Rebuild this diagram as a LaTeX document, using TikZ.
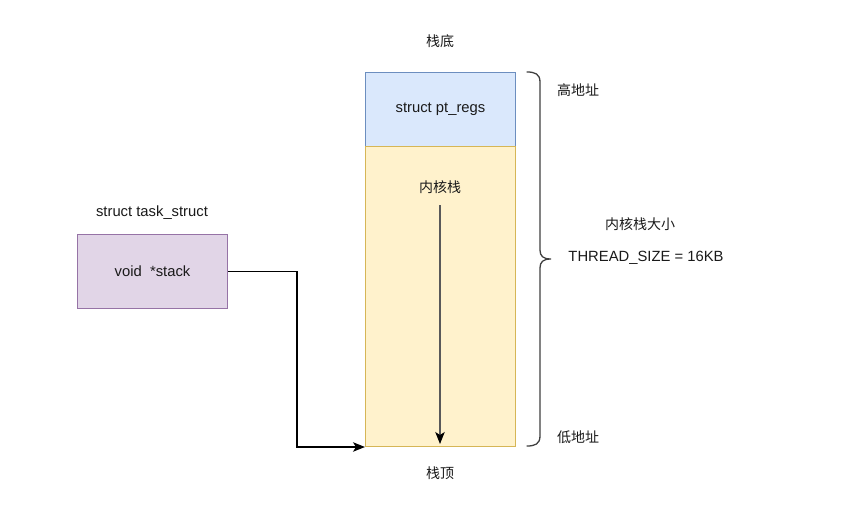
\documentclass[tikz,border=0pt]{standalone}
\usepackage{fontspec}
\setmainfont{Liberation Sans}
\newfontfamily\cjk{Noto Sans CJK SC}
\usetikzlibrary{arrows.meta}
\definecolor{blueF}{HTML}{DAE8FC}
\definecolor{blueD}{HTML}{6C8EBF}
\definecolor{yelF}{HTML}{FFF2CC}
\definecolor{yelD}{HTML}{D6B656}
\definecolor{purF}{HTML}{E1D5E7}
\definecolor{purD}{HTML}{9673A6}
\definecolor{txt}{HTML}{1A1A1A}
\tikzset{
  box/.style={draw, line width=1pt, minimum width=150pt, inner sep=0pt, font=\fontsize{14.8}{17}\selectfont, text=txt},
  lbl/.style={font=\fontsize{14.8}{17}\selectfont, text=txt, inner sep=0pt},
  clbl/.style={font=\fontsize{14}{17}\selectfont\cjk, text=txt, inner sep=0pt},
  conn/.style={line width=1.2pt, draw=black, -{Stealth[length=12pt,width=9.5pt,inset=3pt,color=black]}},
}
\begin{document}
\begin{tikzpicture}[x=1pt,y=-1pt]
\useasboundingbox (0,0) rectangle (841,511);
\fill[white] (0,0) rectangle (841,511);
% stack boxes
\node[box, fill=blueF, draw=blueD, minimum height=74pt, anchor=north west] (pt) at (365,72) {struct pt\_regs};
\node[box, fill=yelF, draw=yelD, minimum height=300pt, anchor=north west] (ks) at (365,146) {};
\node[box, fill=purF, draw=purD, minimum height=74pt, anchor=north west] (ts) at (77,234) {void\ \ *stack};
% labels
\node[clbl] (bottom) at (440,41) {栈底};
\node[clbl] (top) at (440,473) {栈顶};
\node[clbl] (kt) at (440,187) {内核栈};
\node[lbl] (tsl) at (152,213) {struct task\_struct};
\node[clbl] (hi) at (578,90) {高地址};
\node[clbl] (lo) at (578,437) {低地址};
\node[clbl] (sz) at (640,224) {内核栈大小};
\node[lbl] (th) at (646,258) {THREAD\_SIZE = 16KB};
% arrows
\coordinate (kend) at (440,444);
\draw[conn, draw=black!65] (440,205) -- (kend);
\draw[conn] (ts.east) -- ++(69,0) |- (ks.south west);
% brace
\draw[line width=1.3pt, draw=black!75, line cap=round]
  (527,72) .. controls (535,72) and (540,74) .. (540,82)
  -- (540,250) .. controls (540,256) and (543,259) .. (551,259)
  .. controls (543,259) and (540,262) .. (540,268)
  -- (540,436) .. controls (540,444) and (535,446) .. (527,446);
\end{tikzpicture}
\end{document}
